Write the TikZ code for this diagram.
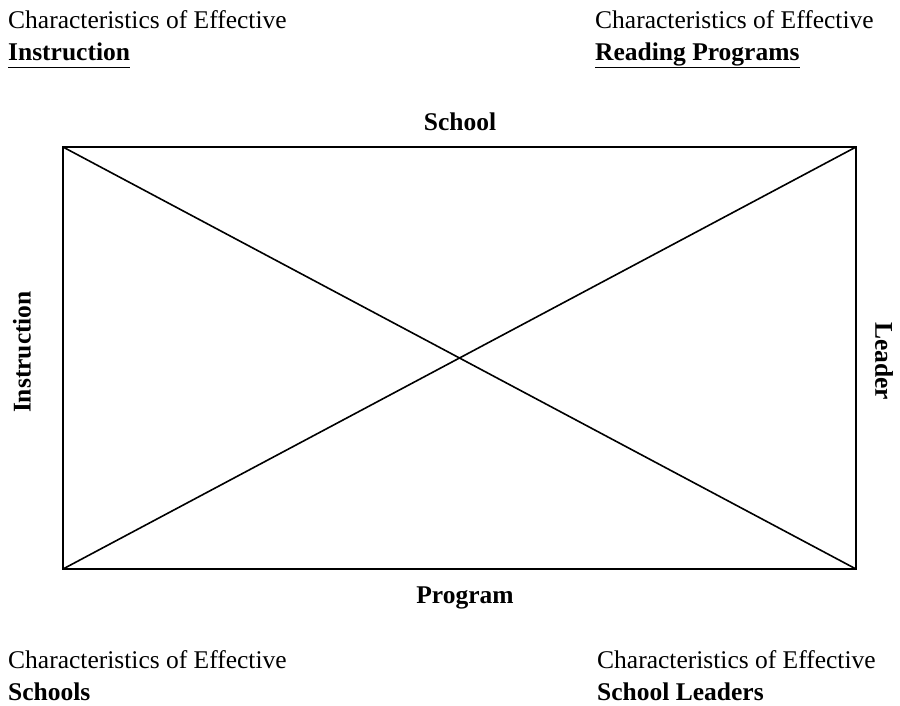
\documentclass[tikz,border=0pt]{standalone}
\usepackage{fontspec}
\setmainfont{Liberation Serif}
\begin{document}
\begin{tikzpicture}[x=1pt,y=-1pt,
  txt/.style={inner sep=0pt,font=\fontsize{25.5}{32}\selectfont},
  head/.style={txt,anchor=base west},
  key/.style={txt,font=\fontsize{25.5}{32}\selectfont\bfseries},
  frame/.style={line width=1.6pt,line join=miter},
  uline/.style={line width=1.5pt}]
\useasboundingbox (0,0) rectangle (900,705);

% corners of the frame
\coordinate (tl) at (63,147);
\coordinate (tr) at (856,147);
\coordinate (br) at (856,569);
\coordinate (bl) at (63,569);

\draw[frame] (tl) -- (tr) -- (br) -- (bl) -- cycle;
\draw[frame] (tl) -- (br);
\draw[frame] (bl) -- (tr);

% side labels
\node[key,anchor=base] (school) at (460,130) {School};
\node[key,anchor=base] (program) at (465,603) {Program};
\node[key,rotate=90] (instr) at (22,352) {Instruction};
\node[key,rotate=-90] (leader) at (884,361) {Leader};

% corner captions
\node[head] (c1) at (8,28) {Characteristics of Effective};
\node[head,font=\fontsize{25.5}{32}\selectfont\bfseries] (k1) at (8,60) {Instruction};
\node[head] (c2) at (595,28) {Characteristics of Effective};
\node[head,font=\fontsize{25.5}{32}\selectfont\bfseries] (k2) at (595,60) {Reading Programs};
\node[head] (c3) at (8,668) {Characteristics of Effective};
\node[head,font=\fontsize{25.5}{32}\selectfont\bfseries] (k3) at (8,700) {Schools};
\node[head] (c4) at (597,668) {Characteristics of Effective};
\node[head,font=\fontsize{25.5}{32}\selectfont\bfseries] (k4) at (597,700) {School Leaders};

% underlines of the upper captions
\draw[uline] ([yshift=-7.5pt]k1.base west) -- ([yshift=-7.5pt]k1.base east);
\draw[uline] ([yshift=-7.5pt]k2.base west) -- ([yshift=-7.5pt]k2.base east);
\end{tikzpicture}
\end{document}
